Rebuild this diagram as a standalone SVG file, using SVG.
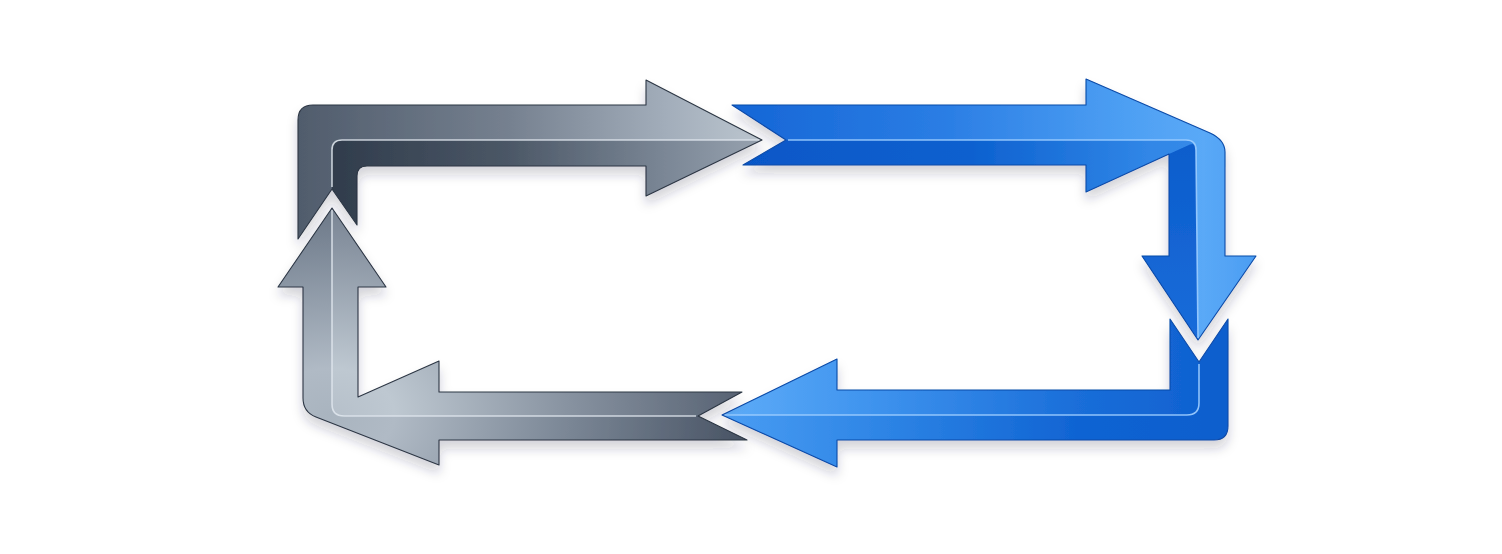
<svg xmlns="http://www.w3.org/2000/svg" width="1502" height="554" viewBox="0 0 1502 554">
  <style>
    .edge-g { fill: none; stroke: #2c3644; stroke-width: 1.1; stroke-linejoin: round; }
    .edge-b { fill: none; stroke: #0a4aa8; stroke-width: 1.1; stroke-linejoin: round; }
    .ridge-g { fill: none; stroke: #dfe6ed; stroke-width: 1.6; opacity: 0.85; }
    .ridge-b { fill: none; stroke: #9ccdff; stroke-width: 1.6; opacity: 0.9; }
    .piece { filter: url(#shadow); }
  </style>
  <defs>
    <filter id="shadow" x="-10%" y="-10%" width="120%" height="130%">
      <feDropShadow dx="0" dy="8" stdDeviation="5.5" flood-color="#1c2a44" flood-opacity="0.2"/>
    </filter>
    <!-- gray top-left -->
    <linearGradient id="gA1" gradientUnits="userSpaceOnUse" x1="298" y1="0" x2="762" y2="0">
      <stop offset="0" stop-color="#505c6c"/>
      <stop offset="0.45" stop-color="#75808f"/>
      <stop offset="0.8" stop-color="#a3aebb"/>
      <stop offset="1" stop-color="#bcc6cf"/>
    </linearGradient>
    <linearGradient id="gA2" gradientUnits="userSpaceOnUse" x1="298" y1="0" x2="762" y2="0">
      <stop offset="0" stop-color="#2b3747"/>
      <stop offset="0.45" stop-color="#4b5766"/>
      <stop offset="0.8" stop-color="#7c8897"/>
      <stop offset="1" stop-color="#97a2af"/>
    </linearGradient>
    <!-- blue top-right -->
    <linearGradient id="gB1" gradientUnits="userSpaceOnUse" x1="732" y1="0" x2="1256" y2="0">
      <stop offset="0" stop-color="#1566d6"/>
      <stop offset="0.4" stop-color="#2a7de4"/>
      <stop offset="0.75" stop-color="#4d9ff3"/>
      <stop offset="0.9" stop-color="#5aa9f7"/>
      <stop offset="1" stop-color="#4b9df2"/>
    </linearGradient>
    <linearGradient id="gB2" gradientUnits="userSpaceOnUse" x1="732" y1="0" x2="1256" y2="0">
      <stop offset="0" stop-color="#0657c7"/>
      <stop offset="0.45" stop-color="#0c60cf"/>
      <stop offset="0.8" stop-color="#3187e7"/>
      <stop offset="1" stop-color="#3a8dea"/>
    </linearGradient>
    <linearGradient id="gBv" gradientUnits="userSpaceOnUse" x1="0" y1="145" x2="0" y2="340">
      <stop offset="0" stop-color="#0b5dcc"/>
      <stop offset="1" stop-color="#1a6cda"/>
    </linearGradient>
    <!-- blue bottom-right -->
    <linearGradient id="gC1" gradientUnits="userSpaceOnUse" x1="722" y1="0" x2="1228" y2="0">
      <stop offset="0" stop-color="#4a9df3"/>
      <stop offset="0.3" stop-color="#2f86e6"/>
      <stop offset="0.7" stop-color="#1064d3"/>
      <stop offset="1" stop-color="#0c5ecd"/>
    </linearGradient>
    <linearGradient id="gC2" gradientUnits="userSpaceOnUse" x1="722" y1="0" x2="1228" y2="0">
      <stop offset="0" stop-color="#5eacf8"/>
      <stop offset="0.3" stop-color="#3e93ee"/>
      <stop offset="0.7" stop-color="#1a6ed9"/>
      <stop offset="1" stop-color="#0d5fcf"/>
    </linearGradient>
    <!-- gray bottom-left -->
    <radialGradient id="gD1" gradientUnits="userSpaceOnUse" cx="330" cy="415" r="430" gradientTransform="translate(330 415) scale(1 0.72) translate(-330 -415)">
      <stop offset="0" stop-color="#a9b4bf"/>
      <stop offset="0.15" stop-color="#b0bac5"/>
      <stop offset="0.55" stop-color="#7b8796"/>
      <stop offset="1" stop-color="#444f60"/>
    </radialGradient>
    <radialGradient id="gD2" gradientUnits="userSpaceOnUse" cx="330" cy="415" r="430" gradientTransform="translate(330 415) scale(1 0.72) translate(-330 -415)">
      <stop offset="0" stop-color="#b6c0ca"/>
      <stop offset="0.15" stop-color="#bec8d1"/>
      <stop offset="0.55" stop-color="#8893a1"/>
      <stop offset="1" stop-color="#525d6e"/>
    </radialGradient>
  </defs>

  <g id="arrow-top-left" class="piece">
    <path fill="url(#gA1)" d="M298,239 L298,120 Q298,105 313,105 L646,105 L646,80 L762,140 L342,140 Q332,140 332,150 L332,189 Z"/>
    <path fill="url(#gA2)" d="M332,189 L332,150 Q332,140 342,140 L762,140 L646,196 L646,166 L367,166 Q357,166 357,176 L357,225 Z"/>
    <path class="ridge-g" d="M332,187 L332,150 Q332,140 342,140 L760,140"/>
    <path class="edge-g" d="M298,239 L298,120 Q298,105 313,105 L646,105 L646,80 L762,140 L646,196 L646,166 L367,166 Q357,166 357,176 L357,225 L332,189 Z"/>
  </g>

  <g id="arrow-top-right" class="piece">
    <path fill="url(#gB1)" d="M732,105 L1086,105 L1086,79 L1210,133 Q1225,140 1225,152 L1225,256 L1256,256 L1198,340 L1196,150 Q1196,140 1186,140 L786,140 Z"/>
    <path fill="url(#gB2)" d="M786,140 L1186,140 Q1196,140 1196,150 L1198,340 L1142,256 L1169,256 L1169,154 L1086,192 L1086,165 L743,165 Z"/>
    <path fill="url(#gBv)" d="M1169,154 L1190,144.5 Q1196,142 1196,150 L1198,340 L1142,256 L1169,256 Z"/>
    <path class="ridge-b" d="M788,140 L1186,140 Q1196,140 1196,150 L1198,338"/>
    <path class="edge-b" d="M732,105 L1086,105 L1086,79 L1210,133 Q1225,140 1225,152 L1225,256 L1256,256 L1198,340 L1142,256 L1169,256 L1169,154 L1086,192 L1086,165 L743,165 L786,140 Z"/>
  </g>

  <g id="arrow-bottom-right" class="piece">
    <path fill="url(#gC1)" d="M1199,362 L1228,319 L1228,426 Q1228,440 1214,440 L837,440 L837,467 L722,415 L1187,415 Q1199,415 1199,403 Z"/>
    <path fill="url(#gC2)" d="M1199,362 L1199,403 Q1199,415 1187,415 L722,415 L837,359 L837,390 L1170,390 L1170,319 Z"/>
    <path class="ridge-b" d="M1199,364 L1199,403 Q1199,415 1187,415 L724,415"/>
    <path class="edge-b" d="M1170,319 L1199,362 L1228,319 L1228,426 Q1228,440 1214,440 L837,440 L837,467 L722,415 L837,359 L837,390 L1170,390 Z"/>
  </g>

  <g id="arrow-bottom-left" class="piece">
    <path fill="url(#gD1)" d="M332,208 L278,287 L303,287 L303,398 Q303,412 316,417 L439,465 L439,440 L747,440 L698,416 L344,416 Q332,416 332,404 Z"/>
    <path fill="url(#gD2)" d="M332,208 L332,404 Q332,416 344,416 L698,416 L742,392 L439,392 L439,361 L358,397 L358,287 L386,287 Z"/>
    <path class="ridge-g" d="M332,210 L332,404 Q332,416 344,416 L696,416"/>
    <path class="edge-g" d="M332,208 L386,287 L358,287 L358,397 L439,361 L439,392 L742,392 L698,416 L747,440 L439,440 L439,465 L316,417 Q303,412 303,398 L303,287 L278,287 Z"/>
  </g>

  <g id="connectors"></g>
</svg>
